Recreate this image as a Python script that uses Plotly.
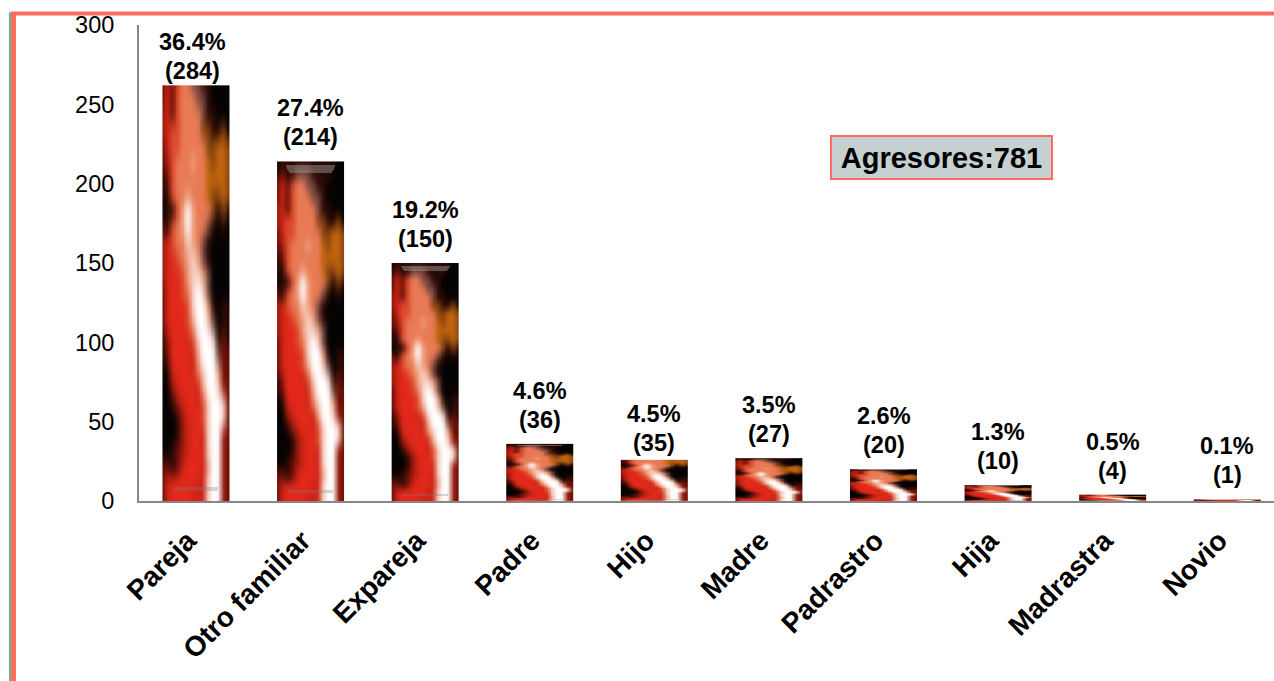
import numpy as np
import plotly.graph_objects as go

categories = ["Pareja", "Otro familiar", "Expareja", "Padre", "Hijo", "Madre",
              "Padrastro", "Hija", "Madrastra", "Novio"]
labelled_values = [284, 214, 150, 36, 35, 27, 20, 10, 4, 1]
percent_labels = ["36.4%", "27.4%", "19.2%", "4.6%", "4.5%", "3.5%", "2.6%", "1.3%", "0.5%", "0.1%"]
drawn_values = [262, 214, 150, 36, 26, 27, 20, 10, 4, 1]
label_anchor = [256, 214, 150, 36, 21.5, 27, 20, 10, 4, 1]
y_ticks = [0, 50, 100, 150, 200, 250, 300]

# Picture fill of the bars (top row first)
palette = {
    "K": (5, 2, 2), "N": (42, 10, 5), "D": (106, 15, 6), "M": (154, 26, 12),
    "R": (204, 36, 22), "B": (226, 40, 26), "T": (220, 74, 44), "S": (232, 122, 85),
    "L": (238, 160, 128), "P": (246, 208, 196), "W": (255, 255, 255), "O": (192, 100, 15),
    "A": (138, 68, 16), "C": (122, 74, 64),
}
texture_rows = [
    "KNNNNNNNNNNNKK",
    "NDNNCCCNNNNKKK",
    "DRDTSSCCNNKKKK",
    "DRDTSSSCCNKKKK",
    "MRDTSSSSCNNKKK",
    "MRTTSSSSAANNAK",
    "DRTTSSSSSAAOOA",
    "DMTSSSLSSOAOOA",
    "NDTSSSSSSOOOOA",
    "NNTSSLSSSOAAOA",
    "KNNTLWLSSSANAN",
    "DNTSLWLSSCNKNK",
    "MRTSSPLSCNKKKK",
    "MRBTSLPLCNKKKK",
    "MRBBTLPPLCKKKK",
    "DRBBTSPWPCKKKK",
    "DRBBBTPWWLNKNN",
    "DRBBBTLWWPCKNN",
    "NMBBBRTPWWPNDN",
    "NDBBBBRLWWWCDD",
    "KNRBBBRSPWWLDD",
    "KKMRBBBRLWWPMD",
    "KKNMRBBRTPWWPD",
    "KKKNMRBBTPWWPD",
    "KKKNMRBBRPWWMD",
    "KKNDMRBBRPWWMD",
    "DDNDRBBBRLWWMD",
    "DRBBBBBRRPWWMD",
    "DRBBBBRRRPWWMD",
]

coarse = np.array([[palette[c] for c in row] for row in texture_rows], dtype=float)[::-1]
OUT_W, OUT_H = 84, 232
grid_x = np.linspace(0, coarse.shape[1] - 1, OUT_W)
grid_y = np.linspace(0, coarse.shape[0] - 1, OUT_H)
tmp = np.stack([[np.interp(grid_x, np.arange(coarse.shape[1]), coarse[r, :, c])
                 for r in range(coarse.shape[0])] for c in range(3)], axis=-1)
texture = np.stack([[np.interp(grid_y, np.arange(coarse.shape[0]), tmp[:, x, c])
                     for x in range(OUT_W)] for c in range(3)], axis=-1).transpose(1, 0, 2)


def soften(img, size, axis):
    """Box-blur along one axis, to get the reference's soft picture look."""
    pad = size // 2
    widths = [(0, 0)] * 3
    widths[axis] = (pad, pad)
    padded = np.pad(img, widths, mode="edge")
    kernel = np.ones(size) / size
    return np.apply_along_axis(lambda m: np.convolve(m, kernel, mode="valid"), axis, padded)


texture = soften(soften(texture, 7, 0), 5, 1)
texture = soften(soften(texture, 5, 0), 5, 1)

# Bevel highlight near the top and faint line near the bottom of the picture (row 0 = bottom)
grey = np.array([170.0, 160.0, 158.0])
for row in range(OUT_H - 8, OUT_H - 3):
    inset = int(round(OUT_W * (0.12 + 0.012 * (OUT_H - 3 - row))))
    texture[row, inset:OUT_W - inset] = 0.55 * texture[row, inset:OUT_W - inset] + 0.45 * grey
for row in range(5, 7):
    texture[row, 14:70] = 0.7 * texture[row, 14:70] + 0.3 * np.array([125.0, 120.0, 120.0])
texture = texture.round().astype(int)

BAR_WIDTH = 0.585
fig = go.Figure()

for i, (v, drawn) in enumerate(zip(labelled_values, drawn_values)):
    dy = v / OUT_H
    keep = max(1, int(round(drawn / dy)))
    fig.add_trace(go.Image(z=texture[:keep].tolist(), colormodel="rgb",
                           x0=i - BAR_WIDTH / 2 + BAR_WIDTH / OUT_W / 2, dx=BAR_WIDTH / OUT_W,
                           y0=dy / 2, dy=dy, hoverinfo="skip"))

fig.add_trace(go.Bar(x=list(range(len(categories))), y=drawn_values, width=BAR_WIDTH,
                     marker=dict(color="rgba(0,0,0,0)", line=dict(width=0)),
                     customdata=labelled_values, hovertemplate="%{customdata}<extra></extra>"))

SALMON = "#FF6B5E"
shapes = [
    dict(type="line", xref="paper", yref="paper", x0=-0.1128, x1=1, y0=1.0242, y1=1.0242,
         line=dict(color=SALMON, width=4)),
    dict(type="line", xref="paper", yref="paper", x0=-0.1106, x1=-0.1106, y0=-0.3782, y1=1.027,
         line=dict(color=SALMON, width=5)),
    dict(type="line", xref="paper", yref="paper", x0=-0.1137, x1=-0.1137, y0=-0.3782, y1=1.027,
         line=dict(color="#5DB58A", width=2)),
]

annotations = []
LABEL_FONT = dict(family="Liberation Sans, Arial, sans-serif", size=23.5, color="#000000", weight=700)
for i, (a, pct, v) in enumerate(zip(label_anchor, percent_labels, labelled_values)):
    nudge = -3 if i == 0 else 0
    annotations.append(dict(x=i, y=a, xref="x", yref="y", text=f"({v})", showarrow=False,
                            xshift=nudge, yshift=24, font=LABEL_FONT))
    annotations.append(dict(x=i, y=a, xref="x", yref="y", text=pct, showarrow=False,
                            xshift=nudge, yshift=53, font=LABEL_FONT))
annotations.append(dict(xref="paper", yref="paper", x=0.7070, y=0.7216, xanchor="center", yanchor="middle",
                        text="Agresores:781", showarrow=False, width=219, height=41,
                        bgcolor="#C6D0D0", bordercolor=SALMON, borderwidth=2, borderpad=0,
                        font=dict(family="Liberation Sans, Arial, sans-serif", size=29, color="#000000", weight=700)))

fig.update_layout(
    width=1274, height=681, autosize=False,
    margin=dict(l=139, r=0, t=25, b=180, pad=0),
    paper_bgcolor="white", plot_bgcolor="white",
    showlegend=False, shapes=shapes, annotations=annotations,
    xaxis=dict(range=[-0.4974, 9.408], tickmode="array", tickvals=list(range(len(categories))),
               ticktext=categories, tickangle=-45, showgrid=False, zeroline=False,
               showline=True, linecolor="#868686", linewidth=2, ticks="outside", ticklen=10,
               tickcolor="rgba(0,0,0,0)", ticklabelshift=-8,
               tickfont=dict(family="Liberation Sans, Arial, sans-serif", size=28, color="#000000", weight=700)),
    yaxis=dict(range=[0, 300], scaleanchor=False, tickmode="array", tickvals=y_ticks, showgrid=False, zeroline=False,
               showline=True, linecolor="#868686", linewidth=2, ticks="outside", ticklen=18,
               tickcolor="rgba(0,0,0,0)",
               tickfont=dict(family="Liberation Sans, Arial, sans-serif", size=23.5, color="#000000")),
)

fig.write_html("out.html", config={"displayModeBar": False}, post_script="document.body.style.margin='0';")
